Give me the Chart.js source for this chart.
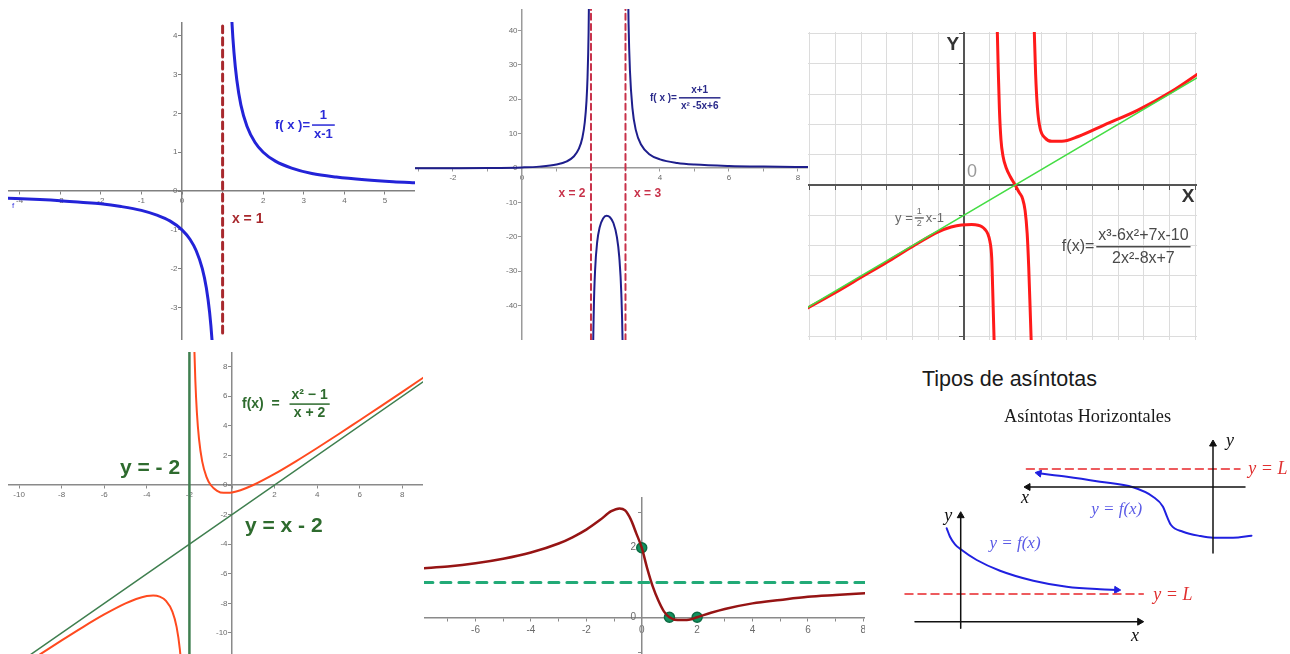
<!DOCTYPE html>
<html>
<head>
<meta charset="utf-8">
<script src="https://cdn.jsdelivr.net/npm/chart.js@4"></script>
<style>
  body { margin: 0; width: 1290px; height: 654px; background: #fff; position: relative; overflow: hidden; }
  canvas { position: absolute; }
  .title { position: absolute; white-space: nowrap; color: #1a1a1a; }
</style>
</head>
<body>
<canvas id="recip" width="407" height="318" style="left:8px;top:22px"></canvas>
<canvas id="twoPoles" width="393" height="331" style="left:415px;top:9px"></canvas>
<canvas id="oblique" width="389" height="308" style="left:808px;top:32px"></canvas>
<canvas id="quadratic" width="415" height="302" style="left:8px;top:352px"></canvas>
<canvas id="bump" width="441" height="157" style="left:424px;top:497px"></canvas>
<canvas id="sketchLeft" width="280" height="140" style="left:1010px;top:425px"></canvas>
<canvas id="sketchRight" width="300" height="154" style="left:900px;top:500px"></canvas>
<div class="title" style="left:922px;top:369px;font:21.5px/21.5px 'Liberation Sans',Arial,sans-serif">Tipos de asíntotas</div>
<div class="title" style="left:1004px;top:407px;font:18.3px/18.3px 'Liberation Serif','Times New Roman',serif">Asíntotas Horizontales</div>
<script>
// f(x) = 1/(x-1)
const recipLeftX = [-4.4, -3.5, -3, -2.5, -2, -1.5, -1, -0.6, -0.3, 0, 0.2, 0.35, 0.5, 0.6, 0.68, 0.74, 0.78];
const recipLeftY = [-0.18, -0.22, -0.25, -0.29, -0.33, -0.4, -0.5, -0.63, -0.77, -1.0, -1.25, -1.54, -2.0, -2.5, -3.13, -3.85, -4.55];
const recipRightX = [1.19, 1.23, 1.28, 1.35, 1.45, 1.6, 1.8, 2.0, 2.3, 2.7, 3.2, 3.8, 4.5, 5.2, 5.8];
const recipRightY = [5.3, 4.35, 3.57, 2.86, 2.22, 1.67, 1.25, 1.0, 0.77, 0.59, 0.45, 0.36, 0.29, 0.24, 0.21];
const recipPoleX = [1, 1];
const recipPoleY = [-3.66, 4.36];

// f(x) = (x+1)/(x^2-5x+6)
const polesLeftX = [-3.2, -2, -1, 0, 0.5, 1, 1.3, 1.5, 1.65, 1.75, 1.82, 1.87, 1.9, 1.93, 1.95];
const polesLeftY = [-0.07, -0.05, 0, 0.17, 0.4, 1.0, 1.93, 3.33, 5.61, 8.8, 13.3, 19.5, 26.4, 39.1, 56.2];
const polesMidX = [2.03, 2.05, 2.08, 2.12, 2.18, 2.25, 2.35, 2.45, 2.55, 2.65, 2.75, 2.82, 2.88, 2.92, 2.95];
const polesMidY = [-104, -64.2, -41.8, -29.5, -21.5, -17.3, -14.7, -13.9, -14.3, -16.0, -20.0, -25.9, -36.7, -53.3, -83];
const polesRightX = [3.04, 3.06, 3.09, 3.13, 3.2, 3.3, 3.45, 3.7, 4, 4.5, 5, 6, 7, 8.4];
const polesRightY = [97.1, 63.8, 41.7, 28.1, 17.5, 11.0, 6.82, 3.95, 2.5, 1.47, 1.0, 0.58, 0.4, 0.28];
const polesAtX = [2, 3];
const polesSpanY = [-50, 46.2];

// f(x) = (x^3-6x^2+7x-10)/(2x^2-8x+7) with y = x/2 - 1
const obliqueLeftX = [-6.2, -5, -4, -3, -2, -1, -0.5, -0.1, 0.3, 0.55, 0.7, 0.82, 0.93, 1.01, 1.08, 1.12, 1.17, 1.2];
const obliqueLeftY = [-4.12, -3.55, -3.05, -2.55, -2.03, -1.55, -1.39, -1.32, -1.31, -1.33, -1.38, -1.47, -1.62, -1.86, -2.41, -3.5, -5.04, -6];
const obliqueMidX = [1.28, 1.30, 1.34, 1.38, 1.44, 1.52, 1.65, 1.8, 1.99, 2.15, 2.28, 2.38, 2.46, 2.52, 2.58, 2.63];
const obliqueMidY = [6, 5.0, 3.65, 2.5, 1.5, 0.95, 0.55, 0.28, 0, -0.25, -0.45, -0.85, -1.6, -2.7, -4.2, -5.5];
const obliqueRightX = [2.72, 2.74, 2.79, 2.86, 2.96, 3.16, 3.42, 3.81, 4.45, 5.49, 6.79, 8.09, 9.2];
const obliqueRightY = [5.6, 5.0, 3.64, 2.54, 1.88, 1.55, 1.44, 1.44, 1.6, 1.99, 2.48, 3.09, 3.72];
const obliqueLineX = [-6.2, 9.2];
const obliqueLineY = [-4.1, 3.6];

// f(x) = (x^2-1)/(x+2)
const quadRightX = [-1.8, -1.77, -1.72, -1.65, -1.55, -1.4, -1.2, -1.0, -0.7, -0.4, -0.2, 0, 0.4, 1, 2, 3, 4, 5, 6, 7, 8, 9.1];
const quadRightY = [11.2, 9.27, 6.99, 4.92, 3.12, 1.6, 0.55, 0, -0.39, -0.53, -0.53, -0.5, -0.35, 0, 0.75, 1.6, 2.5, 3.43, 4.38, 5.33, 6.3, 7.37];
const quadLeftX = [-10.6, -9, -8, -7, -6, -5, -4.5, -4, -3.7, -3.4, -3.1, -2.8, -2.6, -2.45, -2.35, -2.28];
const quadLeftY = [-12.95, -11.43, -10.5, -9.6, -8.75, -8.0, -7.7, -7.5, -7.46, -7.54, -7.83, -8.55, -9.6, -11.1, -12.9, -15];
const quadPoleX = [-2, -2];
const quadPoleY = [-12, 10];
const quadSlantX = [-10.6, 9.1];
const quadSlantY = [-12.6, 7.1];

// curve with horizontal asymptote y = 1
const bumpX = [-7.9, -7, -6, -5, -4, -3, -2.5, -2, -1.5, -1.1, -0.8, -0.6, -0.4, -0.2, 0, 0.2, 0.4, 0.6, 0.8, 1.0, 1.3, 1.7, 2.0, 2.5, 3, 4, 5, 6, 7, 8.1];
const bumpY = [1.41, 1.46, 1.55, 1.68, 1.86, 2.12, 2.3, 2.52, 2.8, 3.05, 3.13, 3.07, 2.82, 2.42, 2.0, 1.4, 0.88, 0.48, 0.17, 0.0, -0.08, -0.07, 0.0, 0.13, 0.24, 0.40, 0.5, 0.59, 0.64, 0.69];
const bumpMarkX = [0, 1, 2];
const bumpMarkY = [2, 0, 0];
const bumpLimitX = [-7.9, 8.1];
const bumpLimitY = [1, 1];

// sketch: x -> -infinity
const leftSketchCurveX = [-17.4, -14.6, -11.3, -8.0, -6.0, -5.0, -4.6, -4.2, -3.0, -1.3, 0, 2.0, 3.85];
const leftSketchCurveY = [1.37, 1.03, 0.53, -0.03, -0.97, -1.97, -2.97, -3.8, -4.47, -4.9, -5.07, -5.07, -4.87];
const leftSketchL = 1.8;
const leftSketchLX = [-18.66, 2.7];
const leftSketchAxisX = [-18.5, 3.2];
const leftSketchAxisY = [-6.6, 4.3];

// sketch: x -> +infinity
const rightSketchCurveX = [-1.4, -1.07, -0.57, 0, 1.6, 3.93, 7.26, 10.6, 13.93, 15.6];
const rightSketchCurveY = [9.34, 8.5, 7.74, 7.24, 6.17, 5.1, 4.1, 3.5, 3.24, 3.18];
const rightSketchL = 2.77;
const rightSketchLX = [-5.57, 18.26];
const rightSketchAxisX = [-4.57, 17.9];
const rightSketchAxisY = [-0.66, 10.6];

const tickFont = { family: 'Liberation Sans', size: 8 };
const tickColor = '#6b6b6b';

function pts(xs, ys) {
  return xs.map((x, i) => ({ x, y: ys[i] }));
}

function curve(xs, ys, color, width, dash) {
  return {
    data: pts(xs, ys),
    borderColor: color,
    borderWidth: width,
    borderDash: dash || [],
    pointRadius: 0,
    fill: false
  };
}

function arrowHead(x, y, rotation, color) {
  return {
    data: [{ x, y }],
    showLine: false,
    pointStyle: 'triangle',
    pointRadius: 4,
    pointRotation: rotation,
    pointBackgroundColor: color,
    pointBorderColor: color,
    pointBorderWidth: 1
  };
}

// keep tick labels at the edges from shrinking the plot area
const noPad = s => { s.paddingLeft = s.paddingRight = s.paddingTop = s.paddingBottom = 0; };

function cartesian(xr, yr, o) {
  const grid = (len) => ({
    drawOnChartArea: !!o.grid,
    color: '#dcdcdc',
    drawTicks: true,
    tickLength: len,
    tickColor: o.axisColor
  });
  return {
    x: {
      type: 'linear', min: xr[0], max: xr[1], position: { y: 0 },
      afterFit: noPad,
      ticks: {
        stepSize: o.xStep, includeBounds: false, autoSkip: false, maxRotation: 0,
        padding: o.xPad || 2, color: tickColor, font: o.font || tickFont,
        display: o.labels !== false, callback: o.xLabel
      },
      grid: grid(o.tick || 3),
      border: { color: o.axisColor, width: o.axisWidth }
    },
    y: {
      type: 'linear', min: yr[0], max: yr[1], position: { x: 0 },
      afterFit: noPad,
      ticks: {
        stepSize: o.yStep, includeBounds: false, autoSkip: false, padding: 0,
        color: tickColor, font: o.font || tickFont,
        display: o.labels !== false, callback: o.yLabel
      },
      grid: grid(o.tick || 3),
      border: { color: o.axisColor, width: o.axisWidth }
    }
  };
}

function hiddenAxes(xr, yr) {
  return {
    x: { type: 'linear', min: xr[0], max: xr[1], display: false },
    y: { type: 'linear', min: yr[0], max: yr[1], display: false }
  };
}

function drawFraction(ctx, px, py, n) {
  ctx.textAlign = 'left';
  let cx = px;
  if (n.pre) {
    ctx.fillText(n.pre, cx, py);
    cx += ctx.measureText(n.pre).width + 2;
  }
  ctx.font = n.fracFont || n.font;
  const w = Math.max(ctx.measureText(n.num).width, ctx.measureText(n.den).width) + 4;
  ctx.fillRect(cx, py - 0.75, w, 1.5);
  ctx.textAlign = 'center';
  ctx.fillText(n.num, cx + w / 2, py - n.gap);
  ctx.fillText(n.den, cx + w / 2, py + n.gap);
  if (n.post) {
    ctx.font = n.font;
    ctx.textAlign = 'left';
    ctx.fillText(n.post, cx + w + 2, py);
  }
}

// text placed at data coordinates
function notesPlugin(items) {
  return {
    id: 'notes',
    afterDatasetsDraw(chart) {
      const { ctx } = chart;
      const sx = chart.scales.x, sy = chart.scales.y;
      ctx.save();
      for (const n of items) {
        const px = sx.getPixelForValue(n.x);
        const py = sy.getPixelForValue(n.y);
        ctx.fillStyle = n.color;
        ctx.font = n.font;
        ctx.textBaseline = 'middle';
        if (n.num !== undefined) {
          drawFraction(ctx, px, py, n);
        } else {
          ctx.textAlign = n.align || 'left';
          ctx.fillText(n.text, px, py);
        }
      }
      ctx.restore();
    }
  };
}

function makeChart(id, datasets, scales, notes) {
  return new Chart(document.getElementById(id), {
    type: 'line',
    data: { datasets },
    options: {
      responsive: false,
      animation: false,
      devicePixelRatio: 1,
      events: [],
      layout: { padding: 0, autoPadding: false },
      plugins: { legend: { display: false }, tooltip: { enabled: false } },
      elements: {
        point: { radius: 0 },
        line: { cubicInterpolationMode: 'monotone', borderCapStyle: 'round' }
      },
      scales
    },
    plugins: [notesPlugin(notes || [])]
  });
}

const sans = '"Liberation Sans", Arial, sans-serif';
const serif = '"Liberation Serif", "Times New Roman", serif';

makeChart('recip', [
  curve(recipPoleX, recipPoleY, '#a8282d', 3, [7, 5]),
  curve(recipLeftX, recipLeftY, '#2323d8', 3),
  curve(recipRightX, recipRightY, '#2323d8', 3)
], cartesian([-4.286, 5.739], [-3.84, 4.356], {
  xStep: 1, yStep: 1, axisColor: '#808080', axisWidth: 1.5,
  xLabel: v => (v === 1 ? '' : String(v)),
  yLabel: v => v + '  '
}), [
  { x: 1.23, y: -0.72, text: 'x = 1', font: 'bold 14px ' + sans, color: '#a8282d' },
  { x: 2.29, y: 1.7, pre: 'f( x )=', num: '1', den: 'x-1', gap: 9.5, font: 'bold 13px ' + sans, color: '#2a2ad8' },
  { x: -4.19, y: -0.39, text: 'f', font: '8px ' + sans, color: '#3a3ae0' }
]);

makeChart('twoPoles', [
  curve([polesAtX[0], polesAtX[0]], polesSpanY, '#c8324a', 2, [6, 4]),
  curve([polesAtX[1], polesAtX[1]], polesSpanY, '#c8324a', 2, [6, 4]),
  curve(polesLeftX, polesLeftY, '#1e1e8c', 2),
  curve(polesMidX, polesMidY, '#1e1e8c', 2),
  curve(polesRightX, polesRightY, '#1e1e8c', 2)
], cartesian([-3.101, 8.29], [-50, 46.22], {
  xStep: 1, yStep: 10, axisColor: '#9a9a9a', axisWidth: 1.5,
  xLabel: v => (v % 2 === 0 && v !== 2 ? String(v) : ''),
  yLabel: v => (v <= -50 ? '' : v + '  ')
}), [
  { x: 1.45, y: -7.56, text: 'x = 2', align: 'center', font: 'bold 12px ' + sans, color: '#c8324a' },
  { x: 3.64, y: -7.56, text: 'x = 3', align: 'center', font: 'bold 12px ' + sans, color: '#c8324a' },
  { x: 3.71, y: 20.4, pre: 'f( x )=', num: 'x+1', den: 'x² -5x+6', gap: 8, font: 'bold 10px ' + sans, color: '#2a2a8a' }
]);

makeChart('oblique', [
  curve(obliqueLineX, obliqueLineY, '#44dd44', 1.5),
  curve(obliqueLeftX, obliqueLeftY, '#ff1a1a', 3),
  curve(obliqueMidX, obliqueMidY, '#ff1a1a', 3),
  curve(obliqueRightX, obliqueRightY, '#ff1a1a', 3)
], cartesian([-6.07, 9.07], [-5.12, 5.05], {
  xStep: 1, yStep: 1, axisColor: '#555', axisWidth: 2, grid: true, tick: 4, labels: false
}), [
  { x: -0.43, y: 4.62, text: 'Y', align: 'center', font: 'bold 19px ' + sans, color: '#333' },
  { x: 8.72, y: -0.4, text: 'X', align: 'center', font: 'bold 19px ' + sans, color: '#333' },
  { x: 0.31, y: 0.43, text: '0', align: 'center', font: '18px ' + sans, color: '#999' },
  { x: 3.81, y: -2.04, pre: 'f(x)=', num: 'x³-6x²+7x-10', den: '2x²-8x+7', gap: 11.5, font: '16px ' + sans, color: '#4a4a4a' },
  { x: -2.68, y: -1.09, pre: 'y =', num: '1', den: '2', post: 'x-1', gap: 6, font: '13px ' + sans, fracFont: '9px ' + sans, color: '#6a6a6a' }
]);

makeChart('quadratic', [
  curve(quadPoleX, quadPoleY, '#3f7f4f', 2.5),
  curve(quadSlantX, quadSlantY, '#3f7f4f', 1.5),
  curve(quadLeftX, quadLeftY, '#ff4a1f', 2),
  curve(quadRightX, quadRightY, '#ff4a1f', 2)
], cartesian([-10.52, 8.97], [-11.42, 8.99], {
  xStep: 2, yStep: 2, axisColor: '#8a8a8a', axisWidth: 1.5,
  xLabel: v => (v === 0 ? '' : String(v)),
  yLabel: v => v + '  '
}), [
  { x: 0.47, y: 5.47, pre: 'f(x)  =  ', num: 'x² − 1', den: 'x + 2', gap: 9, font: 'bold 14px ' + sans, color: '#2e6b2e' },
  { x: -5.26, y: 1.17, text: 'y = - 2', font: 'bold 21px ' + sans, color: '#2e6b2e' },
  { x: 0.61, y: -2.77, text: 'y = x - 2', font: 'bold 21px ' + sans, color: '#2e6b2e' }
]);

makeChart('bump', [
  curve(bumpLimitX, bumpLimitY, '#22aa77', 3, [10, 8]),
  curve(bumpX, bumpY, '#961414', 2.5),
  {
    data: pts(bumpMarkX, bumpMarkY),
    showLine: false,
    pointRadius: 5,
    pointBackgroundColor: '#12915f',
    pointBorderColor: '#0b6b43',
    pointBorderWidth: 1.5
  }
], cartesian([-7.86, 8.06], [-1.055, 3.457], {
  xStep: 1, yStep: 1, axisColor: '#8a8a8a', axisWidth: 1.5, xPad: 4,
  font: { family: 'Liberation Sans', size: 10 },
  xLabel: v => (v % 2 === 0 ? String(v) : ''),
  yLabel: v => (v === 0 || v === 2 ? v + '  ' : '')
}));

makeChart('sketchLeft', [
  curve([0, 0], leftSketchAxisY, '#111', 1.5),
  curve(leftSketchAxisX, [0, 0], '#111', 1.5),
  arrowHead(0, leftSketchAxisY[1], 0, '#111'),
  arrowHead(leftSketchAxisX[0], 0, -90, '#111'),
  curve(leftSketchLX, [leftSketchL, leftSketchL], '#e8262a', 1.5, [8, 5]),
  curve(leftSketchCurveX, leftSketchCurveY, '#2020e0', 2),
  arrowHead(leftSketchCurveX[0], leftSketchCurveY[0], -80, '#2020e0')
], hiddenAxes([-20.3, 7.7], [-7.8, 6.2]), [
  { x: 1.7, y: 4.53, text: 'y', align: 'center', font: 'italic 18px ' + serif, color: '#111' },
  { x: -18.8, y: -1.13, text: 'x', align: 'center', font: 'italic 18px ' + serif, color: '#111' },
  { x: 3.53, y: 1.8, text: 'y = L', font: 'italic 18px ' + serif, color: '#e03030' },
  { x: -9.63, y: -2.3, text: 'y = f(x)', align: 'center', font: 'italic 17px ' + serif, color: '#5a5ae6' }
]);

makeChart('sketchRight', [
  curve([0, 0], rightSketchAxisY, '#111', 1.5),
  curve(rightSketchAxisX, [0, 0], '#111', 1.5),
  arrowHead(0, rightSketchAxisY[1], 0, '#111'),
  arrowHead(rightSketchAxisX[1], 0, 90, '#111'),
  curve(rightSketchLX, [rightSketchL, rightSketchL], '#e8262a', 1.5, [8, 5]),
  curve(rightSketchCurveX, rightSketchCurveY, '#2020e0', 2),
  arrowHead(rightSketchCurveX[rightSketchCurveX.length - 1], rightSketchCurveY[rightSketchCurveY.length - 1], 92, '#2020e0')
], hiddenAxes([-6.07, 23.93], [-3.23, 12.17]), [
  { x: -1.24, y: 10.5, text: 'y', align: 'center', font: 'italic 18px ' + serif, color: '#111' },
  { x: 17.43, y: -1.5, text: 'x', align: 'center', font: 'italic 18px ' + serif, color: '#111' },
  { x: 19.26, y: 2.67, text: 'y = L', font: 'italic 18px ' + serif, color: '#e03030' },
  { x: 5.43, y: 7.84, text: 'y = f(x)', align: 'center', font: 'italic 17px ' + serif, color: '#5a5ae6' }
]);
</script>
</body>
</html>
